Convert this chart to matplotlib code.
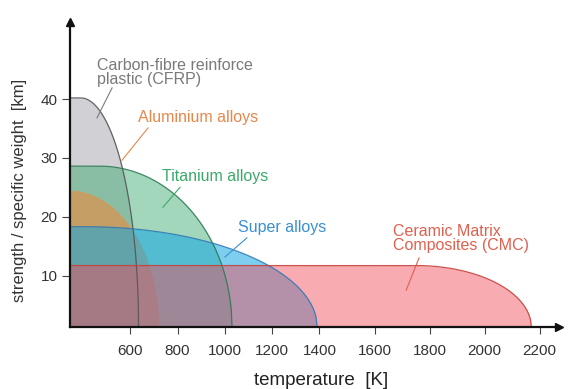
import numpy as np
import matplotlib
matplotlib.use("Agg")
import matplotlib.pyplot as plt

# material envelopes: plateau strength, temperature where plateau ends, max temperature
materials = ["CFRP", "Titanium", "Aluminium", "Super alloys", "CMC"]
strength = [40.2, 28.6, 24.5, 18.3, 11.7]
plateau_end = [390, 470, 345, 410, 1750]
max_temp = [635, 1030, 720, 1390, 2170]

face_colors = ["#a4a4ac", "#34a86a", "#ec8a3c", "#12a6e2", "#f2505c"]
alphas = [0.5, 0.45, 0.6, 0.55, 0.48]
edge_colors = ["#555555", "#2c7a55", "none", "#2f78b8", "#c8403a"]

labels = ["Carbon-fibre reinforce\nplastic (CFRP)", "Titanium alloys", "Aluminium alloys",
          "Super alloys", "Ceramic Matrix\nComposites (CMC)"]
label_colors = ["#7a7a7a", "#3aaa6a", "#e8874a", "#3a8fd0", "#e0604f"]

x_ticks = [600, 800, 1000, 1200, 1400, 1600, 1800, 2000, 2200]
y_ticks = [10, 20, 30, 40]

x_lo, x_hi = 345, 2270
y_lo, y_hi = 1.25, 53.1

plt.rcParams["font.family"] = ["Liberation Sans", "DejaVu Sans"]


# the original axis is drawn a little tighter below 1400 K than above it
def fwd(x):
    x = np.asarray(x, float)
    return np.where(x < 1400, (x - 345) * 0.2365, 249.5 + (x - 1400) * 0.275)


def inv(p):
    p = np.asarray(p, float)
    return np.where(p < 249.5, 345 + p / 0.2365, 1400 + (p - 249.5) / 0.275)


fig = plt.figure(figsize=(5.69, 3.89), dpi=100)
ax = fig.add_axes([0.123, 0.1594, 0.859, 0.784])
ax.set_xscale("function", functions=(fwd, inv))

for h, xs, xe, fc, a, ec in zip(strength, plateau_end, max_temp, face_colors, alphas, edge_colors):
    t = np.concatenate([[x_lo], np.linspace(xs, xe, 200)])
    u = np.clip((t - xs) / (xe - xs), 0, 1)
    y = y_lo + (h - y_lo) * np.sqrt(1 - u ** 2)
    ax.fill_between(t, y_lo, y, color=fc, alpha=a, lw=0)
    if ec != "none":
        ax.plot(t, y, color=ec, lw=0.9, alpha=0.9)

# labels with leader lines (text pos, leader start, leader end)
text_pos = [(459, 44.5), (734, 26.9), (633, 36.8), (1055, 18.25), (1667, 16.3)]
lead_from = [(523, 41.9), (810, 25.0), (675, 35.1), (1093, 16.4), (1762, 13.0)]
lead_to = [(459, 36.8), (738, 21.6), (565, 29.6), (1000, 13.15), (1715, 7.5)]
for lab, c, tp, p0, p1 in zip(labels, label_colors, text_pos, lead_from, lead_to):
    ax.text(tp[0], tp[1], lab, color=c, fontsize=11.5, ha="left", va="center", linespacing=0.95)
    ax.plot([p0[0], p1[0]], [p0[1], p1[1]], color=c, lw=0.8)

ax.set_xlim(x_lo, x_hi)
ax.set_ylim(y_lo, y_hi)
ax.set_xticks(x_ticks)
ax.set_xticklabels([str(v) for v in x_ticks])
ax.set_yticks(y_ticks)
ax.minorticks_off()
ax.tick_params(axis="x", direction="out", length=5, width=0.8, color="#444444",
               labelsize=11, labelcolor="#333333", pad=7)
ax.tick_params(axis="y", direction="out", length=6, width=0.8, color="#444444",
               labelsize=11, labelcolor="#333333", pad=3)

for s in ["top", "right"]:
    ax.spines[s].set_visible(False)
for s in ["left", "bottom"]:
    ax.spines[s].set_linewidth(1.6)
    ax.spines[s].set_color("#111111")
ax.plot(1, 0, ">", color="#111111", ms=6, transform=ax.transAxes, clip_on=False)
ax.plot(0, 1, "^", color="#111111", ms=6, transform=ax.transAxes, clip_on=False)

ax.text(-0.104, 0.449, "strength / specific weight  [km]", transform=ax.transAxes,
        rotation=90, ha="center", va="center", fontsize=12, color="#333333")
ax.text(0.514, -0.174, "temperature  [K]", transform=ax.transAxes,
        ha="center", va="center", fontsize=13.5, color="#222222")

fig.savefig("out.png", dpi=100)
